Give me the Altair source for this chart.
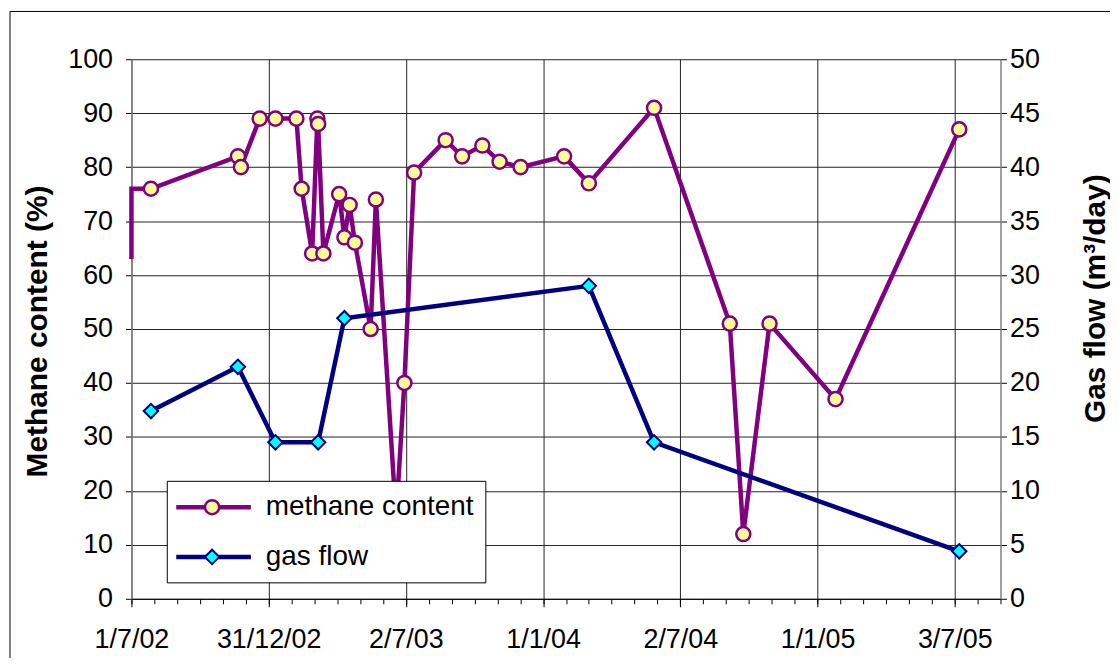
import altair as alt
import pandas as pd

# ---------------- data ----------------
m_dates = ["2002-07-01", "2002-07-01", "2002-07-27", "2002-11-20", "2002-11-24",
           "2002-12-19", "2003-01-09", "2003-02-06", "2003-02-13", "2003-02-27",
           "2003-03-06", "2003-03-07", "2003-03-14", "2003-04-04", "2003-04-11",
           "2003-04-18", "2003-04-25", "2003-05-16", "2003-05-23", "2003-06-19",
           "2003-06-30", "2003-07-13", "2003-08-24", "2003-09-15", "2003-10-12",
           "2003-11-04", "2003-12-02", "2004-01-29", "2004-03-02", "2004-05-28",
           "2004-09-06", "2004-09-24", "2004-10-29", "2005-01-25", "2005-07-09"]
m_values = [63, 76, 76, 82, 80,
            89, 89, 89, 76, 64,
            89, 88, 64, 75, 67,
            73, 66, 50, 74, 15,
            40, 79, 85, 82, 84,
            81, 80, 82, 77, 91,
            51, 12, 51, 37, 87]
m_marker = [0, 0] + [1] * 33

g_dates = ["2002-07-27", "2002-11-20", "2003-01-09", "2003-03-07", "2003-04-11",
           "2004-03-02", "2004-05-28", "2005-07-09"]
g_values = [17.4, 21.5, 14.5, 14.5, 26.0, 29.0, 14.5, 4.4]

x_major = ["2002-07-01", "2002-12-31", "2003-07-02", "2004-01-01",
           "2004-07-02", "2005-01-01", "2005-07-03"]
x_domain = ["2002-07-01", "2005-09-02"]
y_left_ticks = list(range(0, 101, 10))
y_right_ticks = list(range(0, 51, 5))
legend_labels = ["methane content", "gas flow"]


def ms(s):
    return int(pd.Timestamp(s, tz="UTC").value // 10**6)


DAY = 86400000
minor_ticks = []
t = ms(x_domain[0])
while t <= ms(x_domain[1]) + DAY:
    minor_ticks.append(t)
    t += int(30.5 * DAY)

df_m = pd.DataFrame({"date": m_dates, "methane": m_values,
                     "marker": m_marker, "idx": list(range(len(m_dates)))})
df_g = pd.DataFrame({"date": g_dates, "flow": g_values,
                     "idx": list(range(len(g_dates)))})

FONT = "Liberation Sans"
PURPLE = "#800080"
NAVY = "#000080"
W, H = 873, 542

xscale = alt.Scale(type="utc", domain=[ms(d) for d in x_domain], nice=False)

major_axis = alt.Axis(values=[ms(d) for d in x_major],
                      labelExpr="utcFormat(datum.value, '%-d/%-m/%y')",
                      grid=True, gridColor="#222222",
                      gridWidth=1, tickSize=8, tickColor="#000000",
                      domainColor="#000000", domainWidth=1,
                      labelFontSize=27, labelFont=FONT, labelColor="#000000",
                      labelPadding=20, labelFlush=False, labelOverlap=False,
                      labelBound=False, title=None, orient="bottom")
minor_axis = alt.Axis(values=minor_ticks, labels=False, grid=False,
                      tickSize=5, tickColor="#000000", domain=False,
                      title=None, orient="bottom")

left_axis = alt.Axis(values=y_left_ticks, grid=True, gridColor="#222222",
                     gridWidth=1, tickSize=6, tickColor="#000000",
                     domainColor="#808080", domainWidth=1.5,
                     labelFontSize=27, labelFont=FONT, labelColor="#000000",
                     labelPadding=13, orient="left",
                     title="Methane content (%)", titleFont=FONT,
                     titleFontSize=30, titleFontWeight="bold",
                     titleColor="#000000", titleAngle=270,
                     titleBaseline="alphabetic", titleAlign="center",
                     titleX=-85, titleY=273)
right_axis = alt.Axis(values=y_right_ticks, grid=False, tickSize=6,
                      tickColor="#000000", domainColor="#808080",
                      domainWidth=1.5, labelFontSize=27, labelFont=FONT,
                      labelColor="#000000", labelPadding=3, orient="right",
                      title="Gas flow (m³/day)", titleFont=FONT,
                      titleFontSize=30, titleFontWeight="bold",
                      titleColor="#000000", titleAngle=270,
                      titleBaseline="alphabetic", titleAlign="center",
                      titleX=104, titleY=240)

# methane
base_m = alt.Chart(df_m).encode(
    x=alt.X("date:T", scale=xscale, axis=major_axis),
    y=alt.Y("methane:Q", scale=alt.Scale(domain=[0, 100], nice=False),
            axis=left_axis),
)
m_line = base_m.mark_line(color=PURPLE, strokeWidth=4.5).encode(order="idx:Q")
m_pts = base_m.transform_filter("datum.marker == 1").mark_point(
    shape="circle", filled=True, fill="#FFFF99", stroke=PURPLE,
    strokeWidth=2.5, size=200, opacity=1)
methane = alt.layer(m_line, m_pts)

# gas flow
base_g = alt.Chart(df_g).encode(
    x=alt.X("date:T", scale=xscale, axis=minor_axis),
    y=alt.Y("flow:Q", scale=alt.Scale(domain=[0, 50], nice=False),
            axis=right_axis),
)
g_line = base_g.mark_line(color=NAVY, strokeWidth=4.5).encode(order="idx:Q")
g_pts = base_g.mark_point(shape="diamond", filled=True, fill="#00FFFF",
                          stroke=NAVY, strokeWidth=2, size=210, opacity=1)
gas = alt.layer(g_line, g_pts)

# legend
leg1 = pd.DataFrame({"label": [legend_labels[0]]})
leg2 = pd.DataFrame({"label": [legend_labels[1]]})
box = alt.Chart(leg1).mark_rect(fill="white", stroke="black",
                                strokeWidth=1).encode(
    x=alt.value(36), x2=alt.value(356), y=alt.value(424), y2=alt.value(526))
l1_rule = alt.Chart(leg1).mark_rule(color=PURPLE, strokeWidth=4.5).encode(
    x=alt.value(45), x2=alt.value(120), y=alt.value(450))
l1_pt = alt.Chart(leg1).mark_point(shape="circle", filled=True,
                                   fill="#FFFF99", stroke=PURPLE,
                                   strokeWidth=2.5, size=200, opacity=1).encode(
    x=alt.value(81), y=alt.value(450))
l1_txt = alt.Chart(leg1).mark_text(align="left", baseline="alphabetic",
                                   font=FONT, fontSize=28,
                                   color="black").encode(
    x=alt.value(135), y=alt.value(458), text="label:N")
l2_rule = alt.Chart(leg2).mark_rule(color=NAVY, strokeWidth=4.5).encode(
    x=alt.value(45), x2=alt.value(120), y=alt.value(500))
l2_pt = alt.Chart(leg2).mark_point(shape="diamond", filled=True,
                                   fill="#00FFFF", stroke=NAVY,
                                   strokeWidth=2, size=210, opacity=1).encode(
    x=alt.value(81), y=alt.value(500))
l2_txt = alt.Chart(leg2).mark_text(align="left", baseline="alphabetic",
                                   font=FONT, fontSize=28,
                                   color="black").encode(
    x=alt.value(135), y=alt.value(508), text="label:N")

frame = alt.Chart(leg1).mark_rect(fill="transparent", stroke="black",
                                  strokeWidth=1).encode(
    x=alt.value(-122), x2=alt.value(1300), y=alt.value(-48), y2=alt.value(900))

chart = alt.layer(
    methane, gas, box, l1_rule, l1_pt, l1_txt, l2_rule, l2_pt, l2_txt, frame
).resolve_scale(y="independent").resolve_axis(x="independent").properties(
    width=W, height=H,
    autosize=alt.AutoSizeParams(type="none"),
    padding={"left": 124, "top": 50, "right": 110, "bottom": 58},
    background="white",
).configure_view(stroke=None)

chart.save("out.html", embed_options={"renderer": "svg", "actions": False})
